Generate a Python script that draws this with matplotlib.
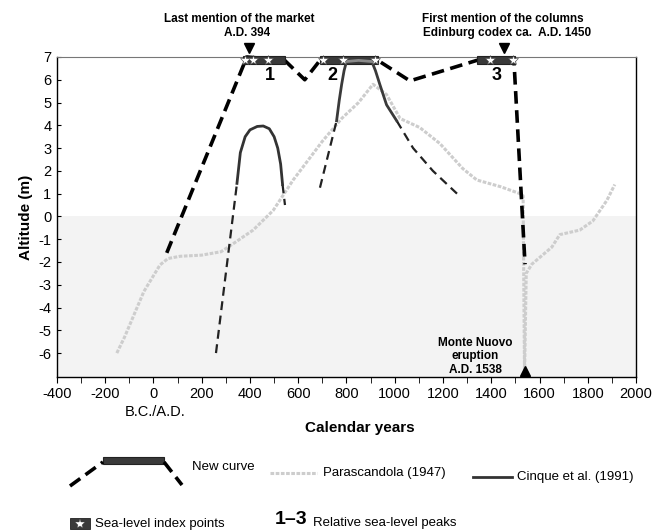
import matplotlib
matplotlib.use('Agg')
import matplotlib.pyplot as plt
from matplotlib.lines import Line2D
from matplotlib.patches import Rectangle

plt.rcParams['font.family'] = ['Liberation Sans', 'DejaVu Sans']
plt.rcParams['axes.unicode_minus'] = False

# Parascandola (1947)
para_x = [-152, -120, -80, -40, 0, 27, 60, 110, 200, 280, 330, 413, 496, 579, 622, 700,
          780, 850, 910, 966, 1022, 1104, 1187, 1282, 1340, 1440, 1519, 1532, 1538,
          1545, 1568, 1651, 1684, 1767, 1821, 1879, 1912]
para_y = [-6.0, -5.3, -4.3, -3.3, -2.6, -2.13, -1.85, -1.75, -1.7, -1.55, -1.2, -0.6, 0.26,
          1.6, 2.2, 3.3, 4.3, 5.0, 5.8, 5.35, 4.3, 3.9, 3.2, 2.1, 1.6, 1.3, 1.0, 0.9, -7.05,
          -2.5, -2.1, -1.35, -0.8, -0.6, -0.2, 0.7, 1.4]

# Cinque et al. (1991), first peak
cin1_dash_x = [259, 346]
cin1_dash_y = [-6.0, 1.45]
cin1_x = [346, 360, 380, 400, 430, 455, 480, 500, 515, 527, 535]
cin1_y = [1.45, 2.8, 3.5, 3.8, 3.95, 3.97, 3.85, 3.5, 3.0, 2.3, 1.4]
cin1_end_x = [535, 545]
cin1_end_y = [1.4, 0.5]

# Cinque et al. (1991), second peak
cin2_dash_x = [690, 759]
cin2_dash_y = [1.26, 4.2]
cin2_x = [759, 770, 780, 790, 800, 850, 905, 920, 938, 966, 1008]
cin2_y = [4.2, 5.1, 5.8, 6.4, 6.8, 6.85, 6.8, 6.4, 5.8, 4.9, 4.2]
cin2_end_x = [1008, 1076, 1158, 1258]
cin2_end_y = [4.2, 3.0, 2.0, 1.0]

# New curve
new_x = [55, 387, 544, 627, 690, 930, 1063, 1340, 1494, 1540]
new_y = [-1.6, 7.0, 6.85, 6.0, 6.85, 6.85, 5.95, 6.85, 6.85, -2.1]

# peaks (boxes) and sea-level index points
peak_start = [370, 690, 1340]
peak_end = [544, 930, 1498]
peak_names = ['1', '2', '3']
peak_label_x = [483, 740, 1423]
index_x = [380, 413, 475, 703, 785, 918, 1395, 1490]

PARA_C = '#cdcdcd'
PARA_LS = (0, (1.2, 0.5))
NEW_LS = (0, (3.5, 1.8))

fig = plt.figure(figsize=(6.55, 5.3), dpi=100)
ax = fig.add_axes([0.087, 0.2887, 0.884, 0.6038])
ax.set_xlim(-400, 2000)
ax.set_ylim(-7.05, 7)

# light sea shading
ax.axhspan(-7.05, 0, color='#f3f3f3', zorder=0, lw=0)

ax.plot(para_x, para_y, color=PARA_C, lw=2.2, ls=PARA_LS, zorder=2)

dk = dict(color='#222222', lw=1.6, ls=(0, (4, 2.5)), zorder=3)
ax.plot(cin1_dash_x, cin1_dash_y, **dk)
ax.plot(cin1_end_x, cin1_end_y, **dk)
ax.plot(cin2_dash_x, cin2_dash_y, **dk)
ax.plot(cin2_end_x, cin2_end_y, **dk)
ax.plot(cin1_x, cin1_y, color='#333333', lw=2.0, zorder=3)

ax.plot(new_x, new_y, color='black', lw=2.6, ls=NEW_LS, zorder=4, clip_on=False)

for s, e in zip(peak_start, peak_end):
    ax.add_patch(Rectangle((s, 6.7), e - s, 0.35, facecolor='#3a3a3a', edgecolor='#222222',
                           lw=0.8, zorder=5, clip_on=False))
ax.plot(cin2_x, cin2_y, color='#3a3a3a', lw=2.0, zorder=6)
ax.plot(cin2_x[4:7], cin2_y[4:7], color='#8a8a8a', lw=2.0, zorder=6, clip_on=False)
ax.plot(index_x, [6.87] * len(index_x), ls='none', marker='*', ms=7.5,
        mfc='white', mec='#444444', mew=0.4, zorder=7, clip_on=False)
for name, x in zip(peak_names, peak_label_x):
    ax.text(x, 6.2, name, fontsize=13, fontweight='bold', ha='center', va='center')

# event markers
ax.plot([394, 1452], [7.38, 7.38], ls='none', marker='v', ms=7, color='black',
        clip_on=False, zorder=8)
ax.plot([1538], [-6.8], ls='none', marker='^', ms=7, color='black', clip_on=False, zorder=8)
ax.text(354, 8.65, 'Last mention of the market', fontsize=8.5, fontweight='bold',
        ha='center', va='center')
ax.text(387, 8.05, 'A.D. 394', fontsize=8.5, fontweight='bold', ha='center', va='center')
ax.text(1449, 8.65, 'First mention of the columns', fontsize=8.5, fontweight='bold',
        ha='center', va='center')
ax.text(1464, 8.05, 'Edinburg codex ca.  A.D. 1450', fontsize=8.5, fontweight='bold',
        ha='center', va='center')
ax.text(1333, -6.15, 'Monte Nuovo\neruption\nA.D. 1538', fontsize=8.5, fontweight='bold',
        ha='center', va='center', linespacing=1.15)

ax.set_xticks(range(-400, 2001, 200))
ax.set_xticks(range(-300, 2000, 200), minor=True)
ax.set_yticks(range(-6, 8))
ax.tick_params(axis='x', which='both', direction='out', length=4, labelsize=10.5, pad=3)
ax.tick_params(axis='y', direction='in', length=3, labelsize=10.5, pad=4)
for sp in ax.spines.values():
    sp.set_linewidth(1.0)
ax.spines['top'].set_color('#777777')
ax.spines['top'].set_linewidth(0.8)

ax.set_ylabel('Altitude (m)', fontsize=11, fontweight='bold', labelpad=4)

# legend and lower texts placed in figure pixels
W, H = 655, 530
def fx(px):
    return px / W
def fy(py):
    return 1 - py / H

fig.text(fx(155), fy(412), 'B.C./A.D.', fontsize=10.5, ha='center', va='center')
fig.text(fx(360), fy(428), 'Calendar years', fontsize=11, fontweight='bold',
         ha='center', va='center')

fig.add_artist(Line2D([fx(70), fx(103)], [fy(486), fy(462)], color='black', lw=2.6, ls=NEW_LS))
fig.add_artist(Line2D([fx(164), fx(182)], [fy(462), fy(485)], color='black', lw=2.6, ls=NEW_LS))
fig.add_artist(Rectangle((fx(103), fy(464)), fx(61), 7 / H, facecolor='#3a3a3a',
                         edgecolor='#222222', lw=0.8, transform=fig.transFigure))
fig.text(fx(192), fy(467), 'New curve', fontsize=9.5, ha='left', va='center')
fig.add_artist(Line2D([fx(270), fx(317)], [fy(473), fy(473)], color=PARA_C, lw=2.2, ls=PARA_LS))
fig.text(fx(323), fy(473), 'Parascandola (1947)', fontsize=9.5, ha='left', va='center')
fig.add_artist(Line2D([fx(473), fx(512)], [fy(477), fy(477)], color='#333333', lw=2.0))
fig.text(fx(517), fy(477), 'Cinque et al. (1991)', fontsize=9.5, ha='left', va='center')

fig.add_artist(Rectangle((fx(70), fy(529)), fx(20), 11 / H, facecolor='#3a3a3a',
                         edgecolor='#222222', lw=0.6, transform=fig.transFigure))
fig.add_artist(Line2D([fx(80)], [fy(523.5)], ls='none', marker='*', ms=7, mfc='white',
                      mec='#444444', mew=0.3))
fig.text(fx(95), fy(524), 'Sea-level index points', fontsize=9.5, ha='left', va='center')
fig.text(fx(275), fy(520), '1\u20133', fontsize=14, fontweight='bold', ha='left', va='center')
fig.text(fx(313), fy(523), 'Relative sea-level peaks', fontsize=9.5, ha='left', va='center')

fig.savefig('out.png', dpi=100)
